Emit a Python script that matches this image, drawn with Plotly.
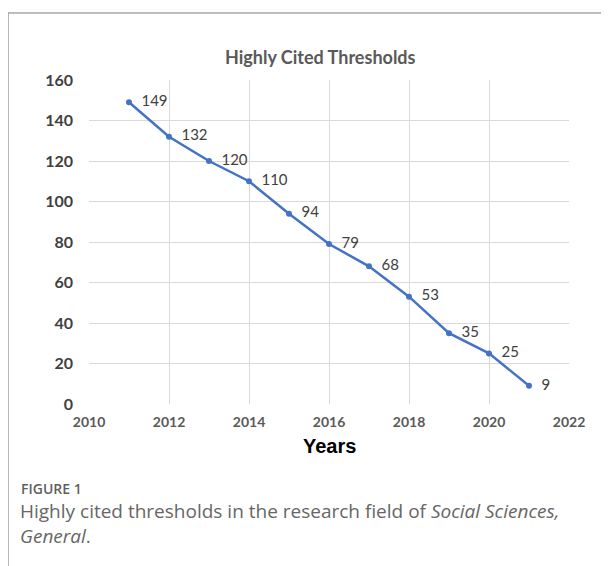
import plotly.graph_objects as go

years = [2011, 2012, 2013, 2014, 2015, 2016, 2017, 2018, 2019, 2020, 2021]
thresholds = [149, 132, 120, 110, 94, 79, 68, 53, 35, 25, 9]
x_ticks = [2010, 2012, 2014, 2016, 2018, 2020, 2022]
y_ticks = [0, 20, 40, 60, 80, 100, 120, 140, 160]

OFF = 8  # browser body margin
W, H = 609 - OFF, 566 - OFF
L, R, T, B = 89 - OFF, 40, 80 - OFF, 162
pw, ph = W - L - R, H - T - B

def px(x):
    return (x - OFF - L) / pw

def py(y):
    return (H - B - (y - OFF)) / ph

fig = go.Figure()
fig.add_trace(go.Scatter(
    x=years, y=thresholds, mode="lines+markers+text",
    text=[str(v) for v in thresholds], texttemplate="  %{text}", textposition="middle right",
    textfont=dict(family="Lato, Open Sans, sans-serif", size=15, color="#404040"),
    line=dict(color="#4472C4", width=2.5),
    marker=dict(color="#4472C4", size=6),
    cliponaxis=False, showlegend=False,
))

fig.update_layout(
    width=W, height=H,
    margin=dict(l=L, r=R, t=T, b=B),
    paper_bgcolor="white", plot_bgcolor="white",
    xaxis=dict(range=[2010, 2022], tickvals=x_ticks, showgrid=True, gridcolor="#d9d9d9",
               gridwidth=1, zeroline=False, showline=False, ticks="",
               tickfont=dict(family="Lato, Open Sans, sans-serif", size=14, color="#595959", weight="bold"),
               ticklabelstandoff=8, fixedrange=True),
    yaxis=dict(range=[0, 160], tickvals=y_ticks, showgrid=True, gridcolor="#d9d9d9",
               gridwidth=1, zeroline=False, showline=False, ticks="",
               tickfont=dict(family="Lato, Open Sans, sans-serif", size=16, color="#404040", weight="bold"),
               ticklabelstandoff=15, fixedrange=True),
    shapes=[
        dict(type="line", xref="paper", yref="paper", x0=px(8), x1=px(620), y0=py(13), y1=py(13),
             line=dict(color="#bdbdbd", width=2)),
        dict(type="line", xref="paper", yref="paper", x0=px(8), x1=px(8), y0=py(13), y1=py(580),
             line=dict(color="#9e9e9e", width=1.5)),
    ],
    annotations=[
        dict(text="<b>Highly Cited Thresholds</b>", xref="paper", yref="paper", x=px(320), y=py(57),
             xanchor="center", yanchor="middle", showarrow=False,
             font=dict(family="Lato, Open Sans, sans-serif", size=18, color="#595959")),
        dict(text="<b>Years</b>", xref="paper", yref="paper", x=px(329), y=py(446),
             xanchor="center", yanchor="middle", showarrow=False,
             font=dict(family="Liberation Sans, Arial, sans-serif", size=20, color="#000000")),
        dict(text="FIGURE 1", xref="paper", yref="paper", x=px(19), y=py(488),
             xanchor="left", yanchor="middle", showarrow=False,
             font=dict(family="Open Sans, sans-serif", size=14, color="#5f5f5f", weight=600)),
        dict(text="Highly cited thresholds in the research field of <i>Social Sciences,</i>",
             xref="paper", yref="paper", x=px(18), y=py(511),
             xanchor="left", yanchor="middle", showarrow=False,
             font=dict(family="Open Sans, sans-serif", size=19, color="#666666")),
        dict(text="<i>General</i>.", xref="paper", yref="paper", x=px(18), y=py(536),
             xanchor="left", yanchor="middle", showarrow=False,
             font=dict(family="Open Sans, sans-serif", size=19, color="#666666")),
    ],
)

fig.write_html("out.html")
